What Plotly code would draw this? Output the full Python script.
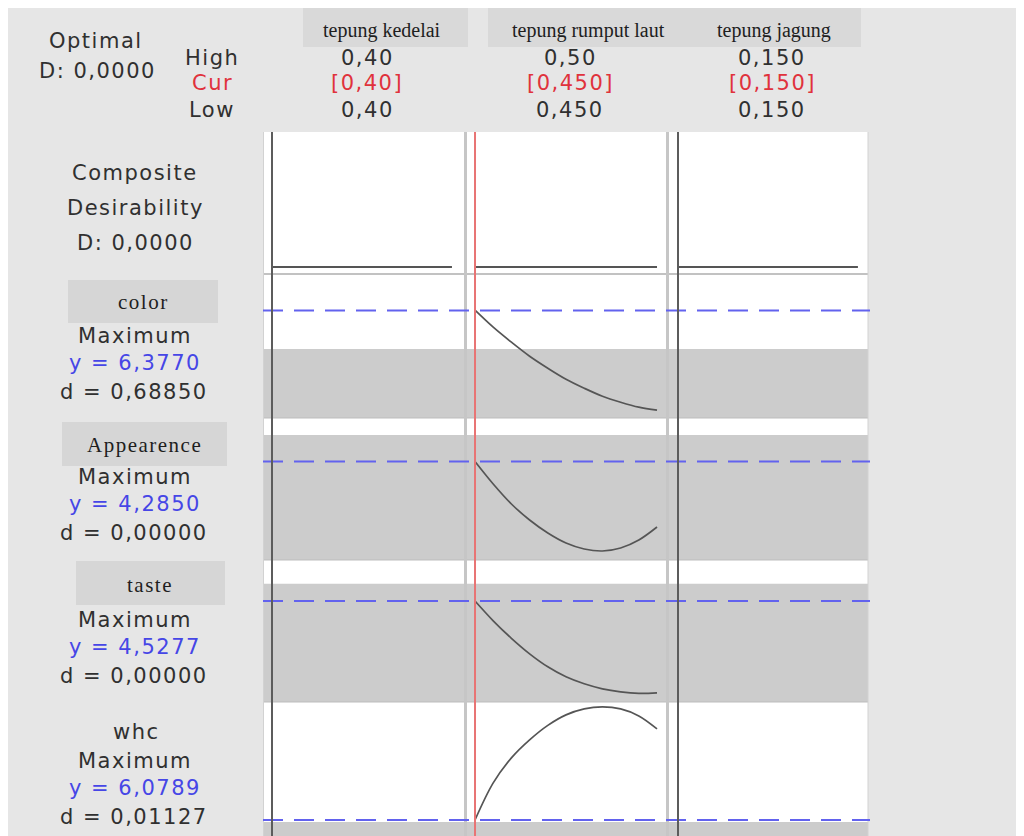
import plotly.graph_objects as go
from plotly.subplots import make_subplots

# ---------------- data ----------------
factor_names = ["tepung kedelai", "tepung rumput laut", "tepung jagung"]
factor_high = ["0,40", "0,50", "0,150"]
factor_cur = ["[0,40]", "[0,450]", "[0,150]"]
factor_low = ["0,40", "0,450", "0,150"]

# tepung rumput laut is the only factor with a range (0,450 .. 0,50)
rumput_x = [0.450, 0.455, 0.460, 0.465, 0.470, 0.475, 0.480, 0.485, 0.490, 0.495, 0.500]
rumput_cur = 0.450
# kedelai / jagung have Low == High: drawn on a relative Low..High position scale
fixed_pos = [0.0, 1.0]
fixed_cur = 0.0

optimal_D = "0,0000"
composite_D = 0.0

responses = ["color", "Appearence", "taste", "whc"]
goals = ["Maximum", "Maximum", "Maximum", "Maximum"]
y_cur = [6.3770, 4.2850, 4.5277, 6.0789]
y_cur_text = ["6,3770", "4,2850", "4,5277", "6,0789"]
d_text = ["0,68850", "0,00000", "0,00000", "0,01127"]
lower_bound = [5.992, 4.55, 4.70, 6.059]

color_y = [6.38, 6.21, 6.06, 5.92, 5.80, 5.69, 5.60, 5.52, 5.46, 5.41, 5.38]
appear_y = [4.285, 4.06, 3.86, 3.70, 3.57, 3.47, 3.41, 3.39, 3.42, 3.50, 3.63]
taste_y = [4.528, 4.33, 4.155, 4.00, 3.87, 3.77, 3.70, 3.65, 3.62, 3.605, 3.61]
whc_y = [6.079, 6.45, 6.70, 6.88, 7.025, 7.13, 7.19, 7.21, 7.19, 7.12, 6.99]
response_curves = [color_y, appear_y, taste_y, whc_y]

# ---------------- layout helpers ----------------
# the page body adds an 8px margin; the figure is sized to fill the rest
OFF = 8
W, H = 1024 - OFF, 836 - OFF


def px(x):
    return (x - OFF) / W


def py(y):
    return 1 - (y - OFF) / H


col_px = [(263, 466), (467, 668), (669, 868)]
row_px = [(132, 274), (274, 418), (418, 560), (560, 702), (702, 836)]
x_ranges = [[-0.05, 1.078], [0.4478, 0.50302], [-0.05, 1.056]]
y_ranges = [[-0.052, 1.0], [5.302, 6.742], [3.30, 4.72], [3.518, 4.938], [5.919, 7.259]]

fig = make_subplots(rows=5, cols=3, horizontal_spacing=0, vertical_spacing=0)

for r in range(5):
    for c in range(3):
        idx = r * 3 + c + 1
        xa = "xaxis" if idx == 1 else f"xaxis{idx}"
        ya = "yaxis" if idx == 1 else f"yaxis{idx}"
        fig.layout[xa].update(domain=[px(col_px[c][0]), px(col_px[c][1])],
                              range=x_ranges[c], visible=False, fixedrange=True)
        fig.layout[ya].update(domain=[max(0, py(row_px[r][1])), py(row_px[r][0])],
                              range=y_ranges[r], visible=False, fixedrange=True)

line_col = "#555555"
# composite desirability row
fig.add_trace(go.Scatter(x=fixed_pos, y=[composite_D] * 2, mode="lines",
                         line=dict(color=line_col, width=2), hoverinfo="skip"), row=1, col=1)
fig.add_trace(go.Scatter(x=rumput_x, y=[composite_D] * len(rumput_x), mode="lines",
                         line=dict(color=line_col, width=2), hoverinfo="skip"), row=1, col=2)
fig.add_trace(go.Scatter(x=fixed_pos, y=[composite_D] * 2, mode="lines",
                         line=dict(color=line_col, width=2), hoverinfo="skip"), row=1, col=3)
# response curves
for i, ys in enumerate(response_curves):
    fig.add_trace(go.Scatter(x=rumput_x, y=ys, mode="lines",
                             line=dict(color=line_col, width=1.7, shape="spline", smoothing=1.0),
                             hoverinfo="skip"), row=i + 2, col=2)

shapes = []
# header boxes
shapes.append(dict(type="rect", xref="paper", yref="paper", x0=px(303), x1=px(468), y0=py(47), y1=1,
                   fillcolor="#d9d9d9", line=dict(width=0), layer="below"))
shapes.append(dict(type="rect", xref="paper", yref="paper", x0=px(488), x1=px(861), y0=py(47), y1=1,
                   fillcolor="#d9d9d9", line=dict(width=0), layer="below"))
# response label boxes
for (x0, x1, y0, y1) in [(68, 218, 280, 323), (62, 227, 422, 466), (76, 225, 561, 605)]:
    shapes.append(dict(type="rect", xref="paper", yref="paper", x0=px(x0), x1=px(x1), y0=py(y1), y1=py(y0),
                       fillcolor="#d6d6d6", line=dict(width=0), layer="below"))
# white plot panel
shapes.append(dict(type="rect", xref="paper", yref="paper", x0=px(263), x1=px(868), y0=0, y1=py(132),
                   fillcolor="white", line=dict(width=0), layer="below"))
# gray bands (response below lower bound -> d = 0)
for i in range(4):
    yref = f"y{(i + 1) * 3 + 1}"
    shapes.append(dict(type="rect", xref="paper", yref=yref, x0=px(263), x1=px(868),
                       y0=y_ranges[i + 1][0], y1=lower_bound[i],
                       fillcolor="#cccccc", line=dict(width=0), layer="below"))
# row boundaries
shapes.append(dict(type="line", xref="paper", yref="paper", x0=px(263), x1=px(868), y0=py(274), y1=py(274),
                   line=dict(color="#c2c2c2", width=2), layer="above"))
for yb in [418, 560, 702]:
    shapes.append(dict(type="line", xref="paper", yref="paper", x0=px(263), x1=px(868), y0=py(yb), y1=py(yb),
                       line=dict(color="#bdbdbd", width=1), layer="above"))
# column separators / edges
for xs in [465.5, 667.5]:
    shapes.append(dict(type="line", xref="paper", yref="paper", x0=px(xs), x1=px(xs), y0=0, y1=py(132),
                       line=dict(color="#c6c6c6", width=3), layer="above"))
for xs in [263.5, 868]:
    shapes.append(dict(type="line", xref="paper", yref="paper", x0=px(xs), x1=px(xs), y0=0, y1=py(132),
                       line=dict(color="#d2d2d2", width=1), layer="above"))
# current response value lines (blue dashed)
for i in range(4):
    yref = f"y{(i + 1) * 3 + 1}"
    shapes.append(dict(type="line", xref="paper", yref=yref, x0=px(263), x1=px(870),
                       y0=y_cur[i], y1=y_cur[i],
                       line=dict(color="#6262ee", width=2, dash="20px,11px"), layer="above"))
# current factor settings
shapes.append(dict(type="line", xref="x", yref="paper", x0=fixed_cur, x1=fixed_cur, y0=0, y1=py(132),
                   line=dict(color="#5c5c5c", width=2), layer="above"))
shapes.append(dict(type="line", xref="x3", yref="paper", x0=fixed_cur, x1=fixed_cur, y0=0, y1=py(132),
                   line=dict(color="#5c5c5c", width=2), layer="above"))
shapes.append(dict(type="line", xref="x2", yref="paper", x0=rumput_cur, x1=rumput_cur, y0=0, y1=py(132),
                   line=dict(color="#e87474", width=2), layer="above"))

fig.update_layout(shapes=shapes)

TXT = "#303030"
RED = "#e0323c"
BLUE = "#4646e6"


def txt(s, x, y, size=21, color=TXT, family="DejaVu Sans", ls=1.5):
    text = f'<span style="letter-spacing:{ls}px">{s}</span>' if ls else s
    fig.add_annotation(x=px(x), y=py(y), xref="paper", yref="paper", text=text, showarrow=False,
                       font=dict(family=family, size=size, color=color),
                       xanchor="center", yanchor="middle")


txt("Optimal", 96, 41)
txt(f"D: {optimal_D}", 97, 71)
txt("High", 212, 58)
txt("Cur", 212, 83, color=RED)
txt("Low", 212, 110)

head_x = [382, 588, 774]
val_x = [367, 570, 772]
for i in range(3):
    txt(factor_names[i], head_x[i], 30, size=20, color="#1e1e1e", family="Liberation Serif", ls=0)
    txt(factor_high[i], val_x[i], 58)
    txt(factor_cur[i], val_x[i], 83, color=RED)
    txt(factor_low[i], val_x[i], 110)

txt("Composite", 135, 173)
txt("Desirability", 135, 208)
txt(f"D: {optimal_D}", 135, 243)

label_pos = [(143, 302), (144, 445), (150, 585), (136, 732)]
goal_y = [336, 477, 620, 761]
for i in range(4):
    if i < 3:
        txt(responses[i], label_pos[i][0], label_pos[i][1], size=21, color="#1e1e1e",
            family="Liberation Serif", ls=1.5)
    else:
        txt(responses[i], label_pos[i][0], label_pos[i][1])
    txt(goals[i], 135, goal_y[i])
    txt(f"y = {y_cur_text[i]}", 135, goal_y[i] + 27, color=BLUE)
    txt(f"d = {d_text[i]}", 134, goal_y[i] + 56)

fig.update_layout(width=W, height=H, margin=dict(l=0, r=0, t=0, b=0),
                  paper_bgcolor="#e6e6e6", plot_bgcolor="rgba(0,0,0,0)",
                  showlegend=False)

fig.write_html("out.html", config={"displayModeBar": False})
